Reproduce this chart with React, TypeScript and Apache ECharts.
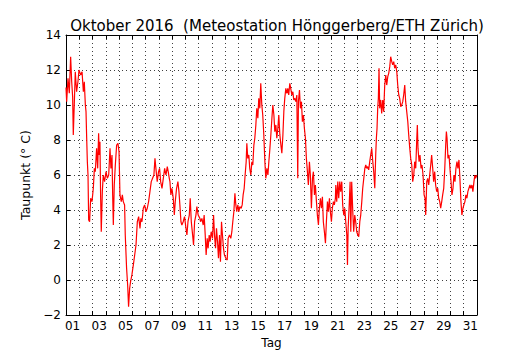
import React, { useEffect, useRef } from "react";
import * as echarts from "echarts";

// time in days since 1 Oct 2016 00:00
const days = [
  0.0, 0.05, 0.15, 0.25, 0.35, 0.43, 0.5, 0.55, 0.63, 0.7, 0.8, 0.9, 0.98, 1.11, 1.21, 1.31, 1.38, 1.46, 1.51, 1.56,
  1.61, 1.66, 1.71, 1.78, 1.86, 1.96, 2.06, 2.14, 2.21, 2.31, 2.39, 2.46, 2.51, 2.56, 2.61, 2.66, 2.74, 2.81, 2.91, 3.02,
  3.12, 3.22, 3.32, 3.39, 3.47, 3.52, 3.57, 3.64, 3.72, 3.82, 3.92, 4.0, 4.07, 4.17, 4.25, 4.32, 4.42, 4.47, 4.57, 4.65,
  4.72, 4.8, 4.87, 4.97, 5.08, 5.18, 5.28, 5.38, 5.48, 5.58, 5.65, 5.73, 5.83, 5.93, 6.03, 6.13, 6.23, 6.33, 6.43, 6.53,
  6.63, 6.71, 6.78, 6.88, 6.98, 7.06, 7.14, 7.24, 7.34, 7.44, 7.54, 7.64, 7.71, 7.79, 7.84, 7.91, 7.99, 8.09, 8.17, 8.24,
  8.34, 8.44, 8.52, 8.59, 8.67, 8.74, 8.84, 8.94, 9.05, 9.12, 9.2, 9.3, 9.37, 9.45, 9.55, 9.62, 9.7, 9.8, 9.87, 9.97,
  10.1, 10.15, 10.25, 10.35, 10.42, 10.5, 10.57, 10.65, 10.72, 10.8, 10.87, 10.95, 11.05, 11.13, 11.2, 11.28, 11.35, 11.43, 11.5, 11.58,
  11.65, 11.73, 11.8, 11.88, 11.95, 12.06, 12.16, 12.23, 12.33, 12.43, 12.51, 12.58, 12.66, 12.74, 12.81, 12.88, 12.96, 13.04, 13.11, 13.21,
  13.29, 13.36, 13.44, 13.51, 13.59, 13.64, 13.71, 13.79, 13.86, 13.94, 14.02, 14.09, 14.17, 14.24, 14.32, 14.39, 14.47, 14.54, 14.62, 14.69,
  14.77, 14.84, 14.92, 15.0, 15.07, 15.15, 15.23, 15.3, 15.38, 15.45, 15.53, 15.6, 15.68, 15.75, 15.83, 15.9, 15.98, 16.05, 16.13, 16.21,
  16.28, 16.36, 16.43, 16.5, 16.58, 16.66, 16.73, 16.8, 16.88, 16.95, 17.03, 17.11, 17.18, 17.26, 17.33, 17.41, 17.48, 17.53, 17.61, 17.68,
  17.76, 17.83, 17.91, 17.98, 18.06, 18.13, 18.21, 18.28, 18.36, 18.43, 18.51, 18.59, 18.66, 18.74, 18.81, 18.89, 18.96, 19.04, 19.11, 19.19,
  19.26, 19.34, 19.41, 19.49, 19.57, 19.64, 19.72, 19.79, 19.87, 19.94, 20.02, 20.09, 20.17, 20.24, 20.32, 20.35, 20.42, 20.5, 20.57, 20.65,
  20.72, 20.8, 20.87, 20.95, 21.03, 21.1, 21.18, 21.23, 21.28, 21.35, 21.43, 21.48, 21.55, 21.63, 21.7, 21.78, 21.85, 21.93, 22.01, 22.08,
  22.16, 22.23, 22.31, 22.38, 22.46, 22.54, 22.61, 22.69, 22.76, 22.83, 22.91, 22.98, 23.06, 23.14, 23.21, 23.29, 23.36, 23.41, 23.46, 23.51,
  23.56, 23.61, 23.66, 23.74, 23.81, 23.89, 23.96, 24.04, 24.12, 24.19, 24.27, 24.34, 24.42, 24.49, 24.57, 24.64, 24.72, 24.79, 24.87, 24.95,
  25.02, 25.1, 25.17, 25.25, 25.32, 25.4, 25.47, 25.55, 25.62, 25.7, 25.78, 25.85, 25.93, 26.0, 26.08, 26.15, 26.23, 26.3, 26.38, 26.45,
  26.5, 26.55, 26.63, 26.7, 26.78, 26.85, 26.93, 27.01, 27.08, 27.13, 27.21, 27.28, 27.36, 27.43, 27.51, 27.58, 27.66, 27.73, 27.81, 27.88,
  27.96, 28.04, 28.11, 28.19, 28.26, 28.34, 28.41, 28.49, 28.57, 28.64, 28.69, 28.74, 28.81, 28.89, 28.96, 29.04, 29.11, 29.19, 29.26, 29.34,
  29.41, 29.49, 29.56, 29.64, 29.71, 29.79, 29.86, 29.94, 30.01, 30.09, 30.16, 30.24, 30.31, 30.39, 30.47, 30.54, 30.62, 30.69, 30.77, 30.84,
  30.89, 30.99,
];

// dew point in °C
const dewPoint = [
  11.0, 10.19, 11.52, 10.67, 12.76, 11.33, 10.48, 8.29, 10.19, 11.9, 10.76, 11.33, 12.0, 11.71, 11.9, 10.76, 11.33, 10.0, 9.62, 8.1,
  6.76, 6.0, 3.43, 3.33, 4.67, 4.48, 5.24, 6.38, 6.19, 7.52, 6.38, 8.38, 7.14, 7.9, 4.86, 2.76, 5.05, 6.0, 5.62, 6.19,
  5.81, 6.0, 7.52, 6.38, 7.14, 4.86, 3.14, 5.43, 6.57, 7.71, 7.81, 7.33, 4.86, 4.48, 4.86, 4.48, 4.29, 2.57, 0.67, -0.29,
  -1.52, -0.48, -0.1, 0.29, 0.86, 1.43, 2.0, 3.33, 3.62, 2.95, 3.52, 3.33, 4.1, 4.29, 3.9, 4.1, 4.48, 5.05, 5.62, 5.81,
  6.0, 6.95, 6.38, 5.62, 6.19, 6.38, 5.62, 5.24, 5.81, 6.38, 6.0, 6.48, 6.19, 5.81, 5.62, 4.86, 5.24, 4.67, 3.71, 4.48,
  5.24, 5.62, 5.05, 4.29, 3.33, 3.14, 3.33, 3.62, 2.95, 2.57, 3.33, 3.71, 4.67, 3.33, 2.57, 2.0, 3.33, 3.71, 4.19, 3.71,
  3.52, 3.33, 3.52, 3.14, 3.71, 2.57, 1.43, 2.38, 1.81, 2.57, 2.19, 2.76, 2.38, 3.71, 2.57, 1.81, 2.95, 2.19, 1.24, 2.57,
  1.05, 3.33, 2.57, 1.81, 1.43, 1.24, 1.14, 2.38, 2.57, 2.38, 2.76, 3.33, 3.9, 4.95, 4.29, 3.9, 4.29, 3.9, 4.19, 4.1,
  4.29, 4.86, 5.24, 6.0, 6.76, 7.81, 6.95, 7.14, 6.38, 6.0, 6.76, 6.57, 7.71, 8.1, 8.86, 9.81, 9.24, 10.38, 9.81, 11.24,
  10.0, 9.43, 8.29, 6.76, 5.81, 6.38, 6.0, 6.76, 7.52, 8.29, 9.24, 10.0, 9.43, 8.48, 8.86, 8.1, 8.67, 9.43, 8.29, 7.71,
  7.24, 8.29, 9.62, 10.38, 10.95, 10.67, 10.95, 10.57, 11.24, 10.95, 10.57, 10.76, 10.29, 10.38, 10.19, 10.57, 5.81, 10.19, 10.86, 9.81,
  10.19, 9.05, 9.43, 8.67, 8.1, 6.95, 6.19, 5.43, 6.76, 6.0, 4.1, 5.81, 6.19, 4.86, 5.43, 4.48, 3.71, 3.14, 4.1, 4.67,
  4.1, 4.76, 3.33, 2.76, 2.1, 3.33, 4.48, 3.9, 4.67, 3.9, 3.33, 4.1, 4.48, 4.29, 4.67, 5.43, 4.48, 5.62, 4.67, 5.62,
  5.05, 5.62, 4.29, 3.71, 4.1, 3.33, 2.57, 0.86, 2.95, 4.1, 5.62, 2.76, 5.62, 3.9, 2.76, 3.71, 3.33, 2.76, 2.57, 2.48,
  3.33, 3.71, 4.48, 5.24, 5.81, 6.38, 6.57, 6.38, 6.48, 6.29, 6.76, 7.14, 7.52, 6.76, 6.19, 5.24, 7.14, 8.1, 8.67, 9.81,
  10.38, 12.1, 9.81, 10.29, 9.52, 10.29, 9.62, 11.14, 11.71, 11.14, 11.62, 11.81, 12.19, 12.76, 12.48, 12.29, 12.48, 12.1, 12.29, 11.9,
  11.14, 10.57, 10.38, 9.9, 10.0, 10.19, 10.57, 11.14, 10.19, 9.62, 9.05, 8.29, 7.52, 6.95, 6.57, 5.62, 6.0, 6.76, 6.38, 7.9,
  8.86, 7.52, 6.76, 7.14, 6.38, 6.57, 6.0, 4.86, 4.67, 3.71, 5.62, 5.81, 5.43, 6.0, 6.57, 7.14, 6.38, 5.62, 6.19, 5.43,
  5.05, 5.24, 4.67, 4.48, 4.1, 4.48, 4.86, 5.24, 6.38, 7.71, 8.48, 8.1, 6.95, 7.14, 6.38, 5.62, 4.86, 5.24, 6.0, 5.62,
  6.38, 6.76, 6.38, 6.86, 5.81, 4.48, 3.71, 4.1, 4.29, 4.48, 4.86, 4.67, 5.05, 5.24, 5.43, 5.24, 5.43, 5.05, 5.62, 6.0,
  5.81, 6.0,
];

const labelDays = [0.5, 2.5, 4.5, 6.5, 8.5, 10.5, 12.5, 14.5, 16.5, 18.5, 20.5, 22.5, 24.5, 26.5, 28.5, 30.5];
const labelTexts = ["01", "03", "05", "07", "09", "11", "13", "15", "17", "19", "21", "23", "25", "27", "29", "31"];

const FONT = "DejaVu Sans";

export default function App() {
  const ref = useRef<HTMLDivElement>(null);
  useEffect(() => {
    if (!ref.current) return;
    document.body.style.margin = "0";
    const chart = echarts.init(ref.current, null, { renderer: "svg" });
    const data = days.map((d, i) => [d, dewPoint[i]]);
    const dotted = { color: "#000", width: 1, type: [1, 3] as any, opacity: 0.75 };
    const frame = { lineStyle: { color: "#000", width: 1 } };
    const tick = { show: true, inside: true, length: 4, lineStyle: { color: "#000", width: 1 } };
    chart.setOption({
      animation: false,
      backgroundColor: "#fff",
      title: {
        text: "Oktober 2016  (Meteostation Hönggerberg/ETH Zürich)",
        left: 272,
        top: 13,
        textAlign: "center",
        textStyle: { fontFamily: FONT, fontSize: 15, fontWeight: "normal", color: "#000" },
      },
      grid: { left: 66, right: 53, top: 35, bottom: 35, containLabel: false, outerBoundsMode: "none" },
      xAxis: [
        {
          type: "value",
          min: 0,
          max: 31,
          interval: 1,
          name: "Tag",
          nameLocation: "middle",
          nameGap: 20,
          nameTextStyle: { fontFamily: FONT, fontSize: 12, color: "#000" },
          axisLine: { show: true, onZero: false, ...frame },
          axisTick: tick,
          splitLine: { show: true, lineStyle: dotted },
          axisLabel: {
            customValues: labelDays,
            formatter: (v: number) => {
              const i = labelDays.indexOf(v);
              return i >= 0 ? labelTexts[i] : "";
            },
            fontFamily: FONT,
            fontSize: 12,
            color: "#000",
            margin: 5,
          },
        },
        {
          type: "value",
          position: "top",
          min: 0,
          max: 31,
          interval: 1,
          axisLine: { show: true, onZero: false, ...frame },
          axisTick: tick,
          axisLabel: { show: false },
          splitLine: { show: false },
        },
      ],
      yAxis: [
        {
          type: "value",
          min: -2,
          max: 14,
          interval: 2,
          name: "Taupunkt (° C)",
          nameLocation: "middle",
          nameGap: 34,
          nameTextStyle: { fontFamily: FONT, fontSize: 12.5, color: "#000" },
          axisLine: { show: true, onZero: false, ...frame },
          axisTick: tick,
          splitLine: { show: true, lineStyle: dotted },
          axisLabel: {
            formatter: (v: number) => (v < 0 ? "\u2212" + Math.abs(v) : String(v)),
            fontFamily: FONT,
            fontSize: 12,
            color: "#000",
            margin: 5,
          },
        },
        {
          type: "value",
          position: "right",
          min: -2,
          max: 14,
          interval: 2,
          axisLine: { show: true, onZero: false, ...frame },
          axisTick: tick,
          axisLabel: { show: false },
          splitLine: { show: false },
        },
      ],
      series: [
        {
          type: "line",
          xAxisIndex: 0,
          yAxisIndex: 0,
          data,
          showSymbol: false,
          symbol: "none",
          lineStyle: { color: "#ff0000", width: 1.2 },
        },
      ],
    });
    return () => chart.dispose();
  }, []);
  return <div ref={ref} style={{ position: "fixed", left: 0, top: 0, width: 530, height: 350 }} />;
}
